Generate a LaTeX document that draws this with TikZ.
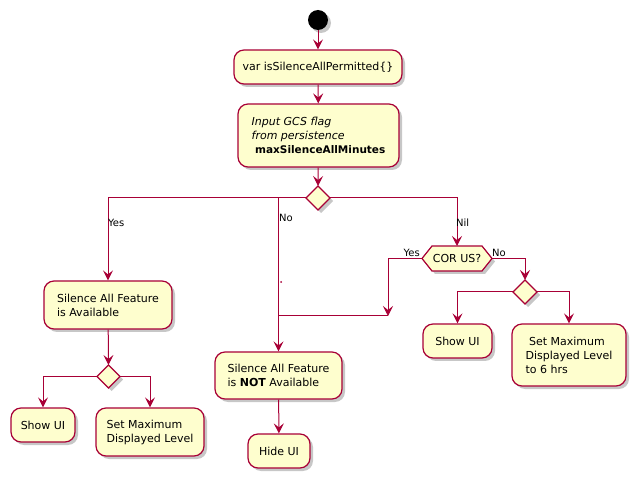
\documentclass[tikz,border=0pt]{standalone}
\usepackage{fontspec}
\setmainfont{DejaVu Sans}
\usetikzlibrary{arrows.meta,shadows}
\definecolor{pborder}{HTML}{A80036}
\definecolor{pfill}{HTML}{FEFECE}
\newcommand{\bmax}[1]{{\fontsize{10.5}{14}\selectfont\bfseries #1}}
\begin{document}
\begin{tikzpicture}[x=1pt,y=-1pt,
  every node/.style={font=\fontsize{11}{14}\selectfont},
  shade/.style={drop shadow={shadow xshift=3pt,shadow yshift=-3pt,opacity=0.22,fill=black}},
  act/.style={draw=pborder,fill=pfill,line width=1.2pt,rounded corners=10pt,align=left,inner sep=0pt,shade},
  dia/.style={draw=pborder,fill=pfill,line width=1.2pt,minimum size=0pt,inner sep=0pt,shade},
  lbl/.style={font=\fontsize{10}{12}\selectfont,inner sep=1pt},
  conn/.style={draw=pborder,line width=1pt},
  arr/.style={conn,-{Stealth[length=10pt,width=10pt,inset=4pt]}}]
\useasboundingbox (0,0) rectangle (641,484);
% start
\node[circle,fill=black,minimum size=20pt,inner sep=0pt,shade] (start) at (318,20) {};
% boxes
\node[act,minimum width=168pt,minimum height=34pt] (box1) at (318,67) {var isSilenceAllPermitted\{\}};
\node[act,minimum width=161pt,minimum height=63pt] (box2) at (318.5,135.5) {\textit{Input GCS flag}\\\textit{from persistence}\\\ \bmax{maxSilenceAllMinutes}};
% main decision
\path[dia] (318,186) coordinate (d1n) -- (330,198) coordinate (d1e) -- (318,210) coordinate (d1s) -- (306,198) coordinate (d1w) -- cycle;
\coordinate (d1) at (318,198);
% left branch
\node[act,minimum width=128pt,minimum height=48pt] (avail) at (108,305) {Silence All Feature\\is Available};
\path[dia] (108.5,365) coordinate (d2n) -- (120,376.5) coordinate (d2e) -- (108.5,388) coordinate (d2s) -- (97,376.5) coordinate (d2w) -- cycle;
\node[act,minimum width=64pt,minimum height=34pt] (showL) at (43,425) {Show UI};
\node[act,minimum width=108pt,minimum height=48pt] (setL) at (150,432) {Set Maximum\\Displayed Level};
% middle branch
\node[act,minimum width=127pt,minimum height=47pt] (notbox) at (278.5,375.5) {Silence All Feature\\is \textbf{NOT} Available};
\node[act,minimum width=62pt,minimum height=34pt] (hide) at (279,451) {Hide UI};
% right branch
\path[dia] (422,258.5) coordinate (hw) -- (432,246) -- (482,246) -- (492,258.5) coordinate (he) -- (482,271) -- (432,271) -- cycle;
\node[inner sep=0pt] (hex) at (457,258.5) {COR US?};
\coordinate (hn) at (457,246);
\path[dia] (525,280) coordinate (d3n) -- (537,292) coordinate (d3e) -- (525,304) coordinate (d3s) -- (513,292) coordinate (d3w) -- cycle;
\node[act,minimum width=69pt,minimum height=34pt] (showR) at (457.5,341) {Show UI};
\node[act,minimum width=114pt,minimum height=62pt] (setR) at (569,355) {\ Set Maximum\\Displayed Level\\to 6 hrs};
% connectors
\draw[arr] (start) -- (box1);
\draw[arr] (box1) -- (box2);
\draw[arr] (box2) -- (d1n);
\draw[arr] (d1w) -| (avail.north);
\draw[arr] (notbox.north |- d1w) -- (notbox.north);
\draw[arr] (d1e) -| (hn);
\coordinate (merge) at (388,316);
\draw[arr] (hw) -| (merge);
\draw[conn] (merge) -- (merge -| notbox.north);
\draw[arr] (he) -| (d3n);
\draw[arr] (d3w) -| (showR.north);
\draw[arr] (d3e) -| (setR.north);
\draw[arr] (avail) -- (d2n);
\draw[arr] (d2w) -| (showL.north);
\draw[arr] (d2e) -| (setL.north);
\draw[arr] (notbox) -- (hide);
\fill[pborder] (281,282) circle (1pt);
% labels
\node[lbl,anchor=west] (lyes) at (107,223) {Yes};
\node[lbl,anchor=west] (lno) at (278,218) {No};
\node[lbl,anchor=west] (lnil) at (455,223) {Nil};
\node[lbl,anchor=south east] (lyes2) at (421,258) {Yes};
\node[lbl,anchor=south west] (lno2) at (491,258) {No};
\end{tikzpicture}
\end{document}
